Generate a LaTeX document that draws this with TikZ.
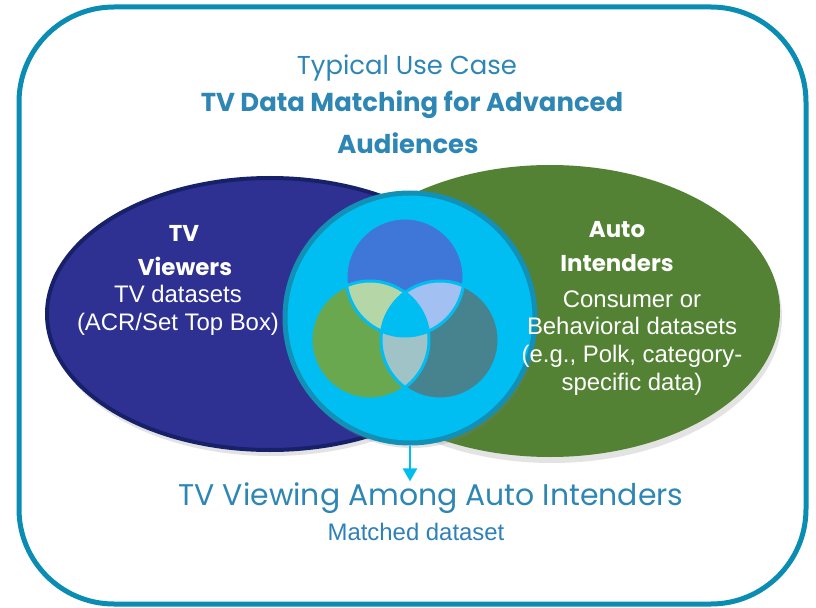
\documentclass[tikz,border=0pt]{standalone}
\usepackage{fontspec}
\setmainfont{Liberation Sans}
\newfontfamily\gothic{Poppins}
\usetikzlibrary{shapes.geometric,arrows.meta,shadows}
\definecolor{framecol}{HTML}{0B8DB3}
\definecolor{titlecol}{HTML}{2E86B5}
\definecolor{tvblue}{HTML}{2E3192}
\definecolor{tvedge}{HTML}{16216A}
\definecolor{autogreen}{HTML}{548235}
\definecolor{hubcyan}{HTML}{00BDF2}
\definecolor{hubedge}{HTML}{1290B5}
\definecolor{venntop}{HTML}{3F77D9}
\definecolor{vennleft}{HTML}{6AA84F}
\definecolor{vennright}{HTML}{47838E}
\definecolor{venntl}{HTML}{B5D6A7}
\definecolor{venntr}{HTML}{A3C0F3}
\definecolor{vennlr}{HTML}{A0C3C8}
\definecolor{matchcol}{HTML}{2E80B8}
\tikzset{
  setshape/.style={ellipse,inner sep=0pt,
    drop shadow={opacity=.22,shadow xshift=2bp,shadow yshift=-6bp}},
  headtext/.style={text=titlecol,font=\gothic\fontsize{26}{30}\selectfont},
  headbold/.style={text=titlecol,font=\gothic\bfseries\fontsize{26}{30}\selectfont},
  setbold/.style={text=white,inner sep=0pt,font=\gothic\bfseries\fontsize{23}{28}\selectfont},
  settext/.style={text=white,align=center,inner sep=0pt,font=\fontsize{24}{28}\selectfont},
  venngap/.style={draw=hubcyan,line width=3bp}
}
\begin{document}
\begin{tikzpicture}[x=1bp,y=-1bp]
\useasboundingbox (0,0) rectangle (816,608);
\draw[framecol,line width=5bp,rounded corners=95bp] (19,7) rectangle (806,604);

% the two data sets
\node[setshape,fill=tvblue,draw=tvedge,line width=4bp,minimum width=446bp,minimum height=272bp] (tvset) at (270,314) {};
\node[setshape,fill=autogreen,minimum width=460bp,minimum height=292bp] (autoset) at (550,311) {};

% matched circle
\node[circle,fill=hubcyan,draw=hubedge,line width=5bp,minimum size=250bp,
  drop shadow={opacity=.22,shadow xshift=2bp,shadow yshift=-5bp}] (hub) at (410,318) {};

\coordinate (vtop) at (405,277);
\coordinate (vleft) at (370,340);
\coordinate (vright) at (440,340);
\fill[venntop] (vtop) circle[radius=59bp];
\fill[vennleft] (vleft) circle[radius=59bp];
\fill[vennright] (vright) circle[radius=59bp];
\begin{scope}
\clip (vtop) circle[radius=59bp];
\fill[venntl] (vleft) circle[radius=59bp];
\fill[venntr] (vright) circle[radius=59bp];
\end{scope}
\begin{scope}
\clip (vleft) circle[radius=59bp];
\fill[vennlr] (vright) circle[radius=59bp];
\clip (vright) circle[radius=59bp];
\fill[hubcyan] (vtop) circle[radius=59bp];
\end{scope}
\draw[venngap] (vtop) circle[radius=59bp];
\draw[venngap] (vleft) circle[radius=59bp];
\draw[venngap] (vright) circle[radius=59bp];

% titles
\node[headtext] (usecase) at (407,68) {Typical Use Case};
\node[headbold] (title1) at (412,105) {TV Data Matching for Advanced};
\node[headbold] (title2) at (408,143) {Audiences};

% set labels
\node[setbold] (tvlabel) at (184,233) {TV};
\node[setbold] (viewlabel) at (185,266) {Viewers};
\node[settext] (tvdata) at (178,310) {TV datasets\\(ACR/Set Top Box)};
\node[setbold] (autolabel) at (617,230) {Auto};
\node[setbold] (intendlabel) at (617,263) {Intenders};
\node[settext] (autodata) at (632,343) {Consumer or\\Behavioral datasets\\(e.g., Polk, category-\\specific data)};

% result
\node[text=titlecol,font=\gothic\fontsize{30}{34}\selectfont,inner sep=1bp] (matchtitle) at (431,498) {TV Viewing Among Auto Intenders};
\node[text=matchcol,font=\fontsize{24}{28}\selectfont] (matchsub) at (416,532) {Matched dataset};
\draw[hubcyan,line width=2.5bp,-{Triangle[width=14bp,length=13bp]}] (hub.south) -- (hub.south |- matchtitle.north);
\end{tikzpicture}
\end{document}
